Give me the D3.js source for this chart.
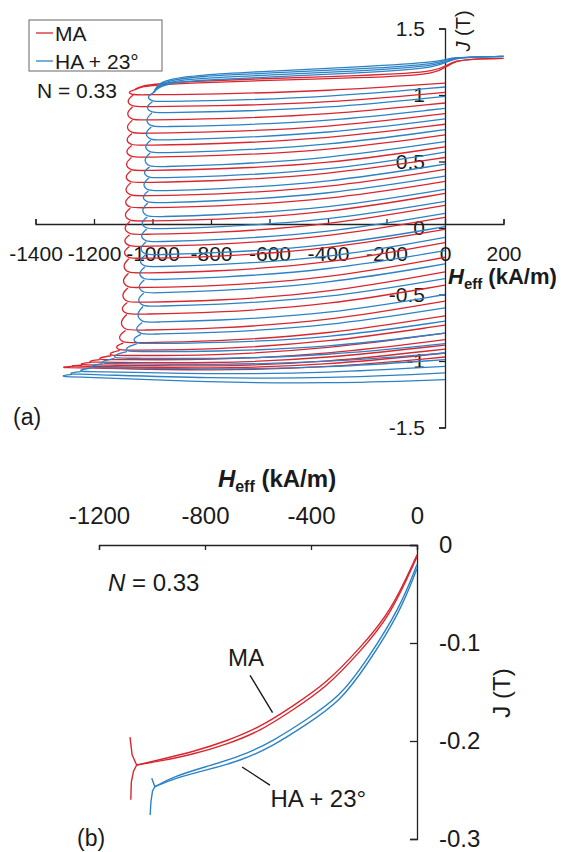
<!DOCTYPE html>
<html>
<head>
<meta charset="utf-8">
<script src="https://cdn.jsdelivr.net/npm/d3@7"></script>
<style>
  body { margin: 0; background: #fff; }
  svg text { font-family: "Liberation Sans", Arial, sans-serif; fill: #1a1a1a; }
  .axis path, .axis line { stroke: #222; stroke-width: 1.3; }
  .axis-a text { font-size: 21px; }
  .axis-b text { font-size: 24px; }
</style>
</head>
<body>
<div id="chart"></div>
<script>
// ---- panel (a) data: recoil curves, H in kA/m, J in T ----
let hTicksA = [-1400, -1200, -1000, -800, -600, -400, -200, 0, 200];
let jTicksA = [1.5, 1, 0.5, 0, -0.5, -1, -1.5];

// upper descending branch (shared H grid)
let majorH = [200, 10, 0, -300, -600, -900, -1000, -1040, -1055, -1060];
let maBandJ1 = [1.275, 1.27, 1.17, 1.145, 1.125, 1.10, 1.08, 1.065, 1.05, 1.04];
let maBandJ2 = [1.275, 1.27, 1.15, 1.13, 1.11, 1.09, 1.07, 1.06, 1.045, 1.04];
let haMajorH = [200, 10, 0, -300, -600, -850, -940, -975, -990, -995];
let haBandJ1 = [1.29, 1.285, 1.25, 1.21, 1.18, 1.15, 1.12, 1.09, 1.05, 1.02];
let haBandJ2 = [1.29, 1.285, 1.235, 1.195, 1.165, 1.14, 1.11, 1.08, 1.045, 1.02];
let haBandJ3 = [1.29, 1.285, 1.22, 1.18, 1.15, 1.125, 1.10, 1.07, 1.04, 1.02];
let haBandJ4 = [1.29, 1.285, 1.205, 1.165, 1.135, 1.11, 1.09, 1.06, 1.035, 1.02];

// MA reversal points and recoil values at H = -800, -400, 0
let maRevH = [-1066, -1068, -1069, -1070, -1071, -1072, -1073, -1074, -1075, -1076, -1077, -1078, -1079, -1080,
              -1082, -1084, -1086, -1088, -1092, -1100, -1112, -1140, -1180, -1210, -1240, -1270, -1300];
let maRevJ = [1.00, 0.91, 0.81, 0.71, 0.62, 0.53, 0.43, 0.34, 0.24, 0.15, 0.05, -0.05, -0.14, -0.23,
              -0.34, -0.45, -0.56, -0.65, -0.77, -0.865, -0.92, -0.96, -0.99, -1.01, -1.03, -1.04, -1.05];
let maJ800 = [1.005, 0.917, 0.818, 0.72, 0.63, 0.54, 0.44, 0.35, 0.25, 0.16, 0.06, -0.04, -0.13, -0.22,
              -0.33, -0.44, -0.55, -0.64, -0.76, -0.855, -0.915, -0.96, -0.995, -1.02, -1.045, -1.06, -1.075];
let maJ400 = [1.03, 0.94, 0.85, 0.755, 0.67, 0.58, 0.48, 0.40, 0.30, 0.21, 0.11, 0.02, -0.07, -0.16,
              -0.27, -0.38, -0.49, -0.58, -0.70, -0.80, -0.86, -0.91, -0.95, -0.98, -1.01, -1.03, -1.05];
let maJ0 = [1.09, 1.02, 0.94, 0.86, 0.78, 0.70, 0.61, 0.53, 0.44, 0.35, 0.26, 0.17, 0.08, -0.01,
            -0.11, -0.22, -0.33, -0.43, -0.55, -0.66, -0.73, -0.79, -0.84, -0.88, -0.91, -0.94, -0.97];

// HA + 23 deg
let haRevH = [-1000, -1002, -1004, -1006, -1008, -1010, -1012, -1014, -1016, -1018, -1020, -1022, -1024, -1026,
              -1028, -1030, -1032, -1035, -1040, -1053, -1087, -1130, -1170, -1205, -1245, -1275, -1300];
let haRevJ = [0.95, 0.865, 0.76, 0.66, 0.564, 0.459, 0.376, 0.278, 0.188, 0.083, -0.008, -0.105, -0.203, -0.293,
              -0.39, -0.49, -0.59, -0.71, -0.80, -0.87, -0.93, -0.98, -1.02, -1.05, -1.08, -1.10, -1.12];
let haJ800 = [0.955, 0.872, 0.768, 0.67, 0.574, 0.47, 0.387, 0.29, 0.20, 0.095, 0.004, -0.092, -0.19, -0.28,
              -0.377, -0.477, -0.578, -0.698, -0.79, -0.865, -0.93, -0.985, -1.03, -1.065, -1.10, -1.13, -1.16];
let haJ400 = [0.983, 0.90, 0.80, 0.71, 0.62, 0.52, 0.43, 0.34, 0.25, 0.145, 0.055, -0.04, -0.14, -0.23,
              -0.32, -0.42, -0.53, -0.65, -0.74, -0.83, -0.90, -0.96, -1.01, -1.05, -1.09, -1.13, -1.17];
let haJ0 = [1.06, 0.99, 0.90, 0.82, 0.74, 0.65, 0.57, 0.48, 0.39, 0.29, 0.20, 0.11, 0.01, -0.07,
            -0.17, -0.27, -0.38, -0.50, -0.60, -0.70, -0.79, -0.87, -0.94, -0.99, -1.04, -1.09, -1.14];

// ---- panel (b) data ----
let hTicksB = [-1200, -800, -400, 0];
let jTicksB = [0, -0.1, -0.2, -0.3];
let bMaH = [-1058, -970, -844, -718, -592, -467, -341, -215, -100, 0];
let bMaJ1 = [-0.2245, -0.219, -0.211, -0.200, -0.186, -0.164, -0.141, -0.105, -0.069, -0.010];
let bMaJ2 = [-0.2245, -0.2205, -0.2135, -0.2035, -0.190, -0.168, -0.145, -0.109, -0.072, -0.012];
let bHaH = [-989, -920, -794, -668, -542, -416, -291, -190, -64, 0];
let bHaJ1 = [-0.2466, -0.2364, -0.226, -0.216, -0.200, -0.178, -0.155, -0.118, -0.064, -0.020];
let bHaJ2 = [-0.2466, -0.2385, -0.2295, -0.2205, -0.205, -0.183, -0.160, -0.123, -0.069, -0.024];
let bMaTickH = [-1083, -1075, -1058, -1070, -1078, -1080];
let bMaTickJ = [-0.196, -0.214, -0.2245, -0.231, -0.242, -0.26];
let bHaTickH = [-1001, -994, -989, -998, -1004, -1007];
let bHaTickJ = [-0.238, -0.243, -0.2466, -0.251, -0.262, -0.2755];

const RED = '#d9262f', BLUE = '#2c82c4';

let svg = d3.select('#chart').append('svg')
    .attr('width', 565)
    .attr('height', 852);

// ================= panel (a) =================
let xA = d3.scaleLinear().domain([-1400, 200]).range([35.5, 503.5]);
let yA = d3.scaleLinear().domain([-1.5, 1.5]).range([427.5, 28.5]);

svg.append('g')
    .attr('class', 'axis axis-a')
    .attr('transform', `translate(0, ${yA(0) - 4})`)
    .call(d3.axisBottom(xA).tickValues(hTicksA).tickSize(-5).tickPadding(22).tickFormat(d => String(d)));

svg.append('g')
    .attr('class', 'axis axis-a')
    .attr('transform', `translate(${xA(0)}, 0)`)
    .call(d3.axisLeft(yA).tickValues(jTicksA).tickSize(6).tickPadding(14).tickFormat(d => String(d)));

let lineA = d3.line().x(d => xA(d[0])).y(d => yA(d[1])).curve(d3.curveBasis);

function recoilPaths(startH, startJ, revH, revJ, j800, j400, j0) {
    let paths = [];
    let prevH = startH, prevJ = startJ;
    revH.forEach((h, i) => {
        let j = revJ[i];
        paths.push([
            [prevH, prevJ],
            [(prevH + h) / 2 - 24, (prevJ + j) / 2],
            [h, j],
            [h + 30, j + 0.002],
            [-800, j800[i]],
            [-400, j400[i]],
            [0, j0[i]]
        ]);
        prevH = h;
        prevJ = j;
    });
    return paths;
}

function drawSeries(color, bandH, bands, revH, revJ, j800, j400, j0) {
    let g = svg.append('g')
        .attr('fill', 'none')
        .attr('stroke', color)
        .attr('stroke-width', 1.3);
    bands.forEach(b => {
        g.append('path').attr('d', lineA(bandH.map((h, i) => [h, b[i]])));
    });
    let last = bandH.length - 1;
    let paths = recoilPaths(bandH[last], bands[0][last], revH, revJ, j800, j400, j0);
    g.selectAll('path.recoil')
        .data(paths)
        .enter().append('path')
        .attr('class', 'recoil')
        .attr('d', lineA);
}

drawSeries(RED, majorH, [maBandJ1, maBandJ2], maRevH, maRevJ, maJ800, maJ400, maJ0);
drawSeries(BLUE, haMajorH, [haBandJ1, haBandJ2, haBandJ3, haBandJ4], haRevH, haRevJ, haJ800, haJ400, haJ0);

// legend
let leg = svg.append('g');
leg.append('rect')
    .attr('x', 29).attr('y', 20).attr('width', 133).attr('height', 51)
    .attr('fill', '#fff').attr('stroke', '#666').attr('stroke-width', 1);
[['MA', RED, 33], ['HA + 23°', BLUE, 61]].forEach(([label, c, y]) => {
    leg.append('line').attr('x1', 36).attr('x2', 53).attr('y1', y).attr('y2', y)
        .attr('stroke', c).attr('stroke-width', 1.3);
    leg.append('text').attr('x', 55).attr('y', y + 7.5).style('font-size', '21px').text(label);
});

svg.append('text').attr('x', 37).attr('y', 97.5).style('font-size', '21px').text('N = 0.33');
svg.append('text').attr('x', 13).attr('y', 425).style('font-size', '23px').text('(a)');

let hLabA = svg.append('text').attr('x', 448).attr('y', 284)
    .style('font-size', '22px').style('font-weight', 'bold');
hLabA.append('tspan').style('font-style', 'italic').text('H');
hLabA.append('tspan').attr('dy', 5).style('font-size', '15px').text('eff');
hLabA.append('tspan').attr('dy', -5).text(' (kA/m)');

let jLabA = svg.append('text')
    .attr('transform', 'translate(470, 31) rotate(-90)')
    .attr('text-anchor', 'middle')
    .style('font-size', '20px');
jLabA.append('tspan').style('font-style', 'italic').text('J');
jLabA.append('tspan').text(' (T)');

// ================= panel (b) =================
let xB = d3.scaleLinear().domain([-1200, 0]).range([99, 417]);
let yB = d3.scaleLinear().domain([-0.3, 0]).range([839, 545]);

svg.append('g')
    .attr('class', 'axis axis-b')
    .attr('transform', `translate(0, ${yB(0)})`)
    .call(d3.axisTop(xB).tickValues(hTicksB).tickSize(-5).tickPadding(21).tickFormat(d => String(d)));

svg.append('g')
    .attr('class', 'axis axis-b')
    .attr('transform', `translate(${xB(0)}, 0)`)
    .call(d3.axisRight(yB).tickValues(jTicksB).tickSize(-7).tickPadding(22).tickFormat(d => String(d)));

let lineB = d3.line().x(d => xB(d[0])).y(d => yB(d[1])).curve(d3.curveBasis);
let lineBLin = d3.line().x(d => xB(d[0])).y(d => yB(d[1]));

let gb = svg.append('g').attr('fill', 'none').attr('stroke-width', 1.4);
[[bMaH, bMaJ1, RED], [bMaH, bMaJ2, RED], [bHaH, bHaJ1, BLUE], [bHaH, bHaJ2, BLUE]].forEach(([hs, js, c]) => {
    gb.append('path').attr('stroke', c).attr('d', lineB(hs.map((h, i) => [h, js[i]])));
});
[[bMaTickH, bMaTickJ, RED], [bHaTickH, bHaTickJ, BLUE]].forEach(([hs, js, c]) => {
    gb.append('path').attr('stroke', c).attr('d', lineBLin(hs.map((h, i) => [h, js[i]])));
});

// annotations
gb.append('line').attr('stroke', '#1a1a1a')
    .attr('x1', xB(-630)).attr('y1', yB(-0.133)).attr('x2', xB(-545)).attr('y2', yB(-0.171));
gb.append('line').attr('stroke', '#1a1a1a')
    .attr('x1', xB(-660)).attr('y1', yB(-0.2265)).attr('x2', xB(-555)).attr('y2', yB(-0.245));
svg.append('text').attr('x', xB(-645)).attr('y', yB(-0.123)).attr('text-anchor', 'middle')
    .style('font-size', '24px').text('MA');
svg.append('text').attr('x', xB(-553)).attr('y', yB(-0.2675))
    .style('font-size', '24px').text('HA + 23°');

let nLabB = svg.append('text').attr('x', 108).attr('y', 591).style('font-size', '24px');
nLabB.append('tspan').style('font-style', 'italic').text('N');
nLabB.append('tspan').text(' = 0.33');

svg.append('text').attr('x', 77).attr('y', 846).style('font-size', '23px').text('(b)');

let hLabB = svg.append('text').attr('x', 277).attr('y', 487).attr('text-anchor', 'middle')
    .style('font-size', '24px').style('font-weight', 'bold');
hLabB.append('tspan').style('font-style', 'italic').text('H');
hLabB.append('tspan').attr('dy', 5).style('font-size', '16px').text('eff');
hLabB.append('tspan').attr('dy', -5).text(' (kA/m)');

svg.append('text')
    .attr('transform', 'translate(510, 693) rotate(-90)')
    .attr('text-anchor', 'middle')
    .style('font-size', '24px')
    .text('J (T)');
</script>
</body>
</html>
